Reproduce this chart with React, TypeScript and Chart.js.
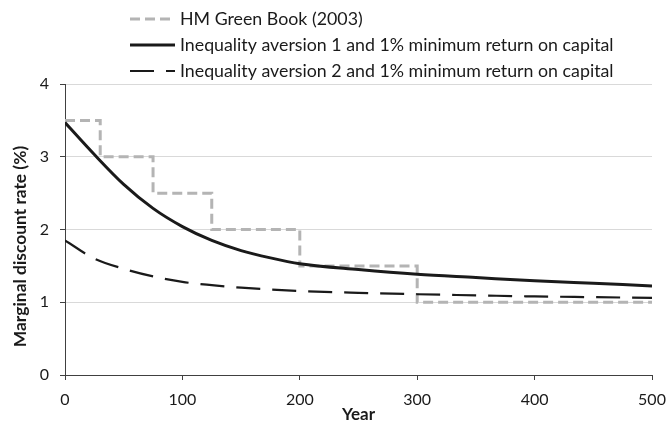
import React, { useEffect, useRef } from "react";
import { Chart, registerables } from "chart.js";

Chart.register(...registerables);

// ---- Data ----
const greenBookYears = [0, 30, 75, 125, 200, 300, 500];
const greenBookRates = [3.5, 3.0, 2.5, 2.0, 1.5, 1.0, 1.0];

const curveYears = [0, 25, 50, 75, 100, 125, 150, 175, 200, 250, 300, 350, 400, 450, 500];
const aversion1Rates = [3.47, 3.03, 2.62, 2.29, 2.04, 1.85, 1.71, 1.61, 1.53, 1.45, 1.385, 1.34, 1.295, 1.26, 1.225];
const aversion2Rates = [1.85, 1.6, 1.46, 1.355, 1.28, 1.235, 1.2, 1.175, 1.155, 1.13, 1.11, 1.095, 1.08, 1.07, 1.06];

const seriesLabels = [
  "HM Green Book (2003)",
  "Inequality aversion 1 and 1% minimum return on capital",
  "Inequality aversion 2 and 1% minimum return on capital",
];

const xTitle = "Year";
const yTitle = "Marginal discount rate (%)";

const FONT = "Lato";

const legendAndTitlePlugin = {
  id: "customLegendTitle",
  afterDraw(chart: any) {
    const ctx = chart.ctx as CanvasRenderingContext2D;
    const area = chart.chartArea;
    // Legend
    const rows = [19, 45, 71];
    const lineStart = 130;
    const lineEnd = 175;
    const textX = 180;
    chart.data.datasets.forEach((ds: any, i: number) => {
      const y = rows[i];
      ctx.save();
      ctx.beginPath();
      ctx.strokeStyle = ds.borderColor;
      ctx.lineWidth = ds.borderWidth;
      ctx.setLineDash(ds.borderDash || []);
      ctx.lineCap = "butt";
      ctx.moveTo(lineStart, y);
      ctx.lineTo(lineEnd, y);
      ctx.stroke();
      ctx.restore();
      ctx.save();
      ctx.font = `17.8px ${FONT}`;
      ctx.fillStyle = "#1a1a1a";
      ctx.textAlign = "left";
      ctx.textBaseline = "middle";
      ctx.fillText(ds.label, textX, y);
      ctx.restore();
    });
    // Y axis title
    ctx.save();
    ctx.translate(20, (area.top + area.bottom) / 2 + 17);
    ctx.rotate(-Math.PI / 2);
    ctx.font = `bold 17.4px ${FONT}`;
    ctx.fillStyle = "#1a1a1a";
    ctx.textAlign = "center";
    ctx.textBaseline = "middle";
    ctx.fillText(yTitle, 0, 0);
    ctx.restore();
  },
};

export default function App() {
  const canvasRef = useRef<HTMLCanvasElement | null>(null);

  useEffect(() => {
    if (!canvasRef.current) return;
    const toPoints = (xs: number[], ys: number[]) => xs.map((x, i) => ({ x, y: ys[i] }));
    const chart = new Chart(canvasRef.current, {
      type: "line",
      data: {
        datasets: [
          {
            label: seriesLabels[0],
            data: toPoints(greenBookYears, greenBookRates),
            borderColor: "#b4b4b4",
            borderWidth: 3,
            borderDash: [10, 5],
            stepped: "before",
            pointRadius: 0,
            fill: false,
            order: 3,
          },
          {
            label: seriesLabels[1],
            data: toPoints(curveYears, aversion1Rates),
            borderColor: "#1a1a1a",
            borderWidth: 3,
            cubicInterpolationMode: "monotone",
            pointRadius: 0,
            fill: false,
            order: 1,
          },
          {
            label: seriesLabels[2],
            data: toPoints(curveYears, aversion2Rates),
            borderColor: "#1a1a1a",
            borderWidth: 2.2,
            borderDash: [24, 12],
            cubicInterpolationMode: "monotone",
            pointRadius: 0,
            fill: false,
            order: 2,
          },
        ],
      },
      options: {
        responsive: false,
        animation: false,
        devicePixelRatio: 1,
        layout: { padding: { top: 84, right: 0, bottom: 0, left: 0 } },
        plugins: {
          legend: { display: false },
          tooltip: { enabled: false },
        },
        scales: {
          x: {
            type: "linear",
            min: 0,
            max: 500,
            ticks: {
              stepSize: 100,
              font: { family: FONT, size: 16 },
              color: "#1a1a1a",
              padding: 10,
              maxRotation: 0,
            },
            grid: {
              drawOnChartArea: false,
              drawTicks: true,
              tickLength: 5,
              tickColor: "#404040",
            },
            border: { color: "#404040", width: 1 },
            title: {
              display: true,
              text: xTitle,
              font: { family: FONT, size: 17, weight: "bold" },
              color: "#1a1a1a",
              padding: { top: 0, bottom: -3 },
            },
            afterFit: (scale: any) => {
              scale.height = 47;
              scale.paddingRight = 14;
              scale.paddingLeft = 0;
            },
          },
          y: {
            min: 0,
            max: 4,
            ticks: {
              stepSize: 1,
              font: { family: FONT, size: 16 },
              color: "#1a1a1a",
              padding: 11,
            },
            grid: {
              color: "#d9d9d9",
              lineWidth: 1,
              drawTicks: true,
              tickLength: 5,
              tickColor: "#404040",
            },
            border: { color: "#404040", width: 1 },
            afterFit: (scale: any) => {
              scale.width = 65;
              scale.paddingTop = 0;
              scale.paddingBottom = 0;
            },
          },
        },
      },
      plugins: [legendAndTitlePlugin],
    });
    return () => chart.destroy();
  }, []);

  return (
    <div style={{ position: "absolute", left: 0, top: 0, width: 666, height: 422, background: "#fff" }}>
      <canvas ref={canvasRef} width={666} height={422} />
    </div>
  );
}
